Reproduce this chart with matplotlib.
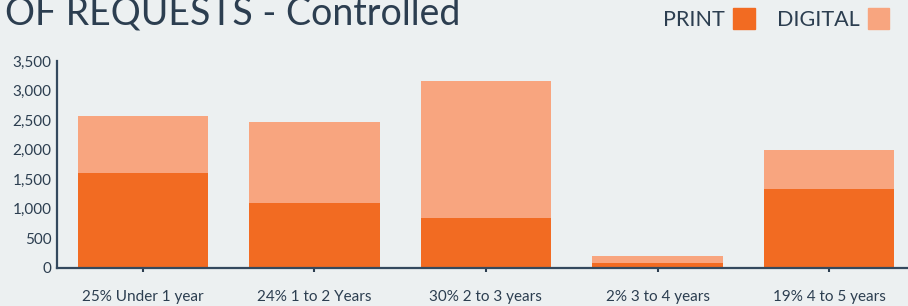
import matplotlib
matplotlib.use("Agg")
import matplotlib.pyplot as plt
import numpy as np

categories = ["25% Under 1 year", "24% 1 to 2 Years", "30% 2 to 3 years", "2% 3 to 4 years", "19% 4 to 5 years"]
print_vals = [1608, 1098, 842, 80, 1336]
digital_vals = [968, 1376, 2311, 119, 664]
yticks = [0, 500, 1000, 1500, 2000, 2500, 3000, 3500]

BG = "#ECF0F1"
TXT = "#2C3E50"
C_PRINT = "#F26B22"
C_DIG = "#F8A57F"

plt.rcParams['font.family'] = ['Lato', 'DejaVu Sans']

fig = plt.figure(figsize=(9.08, 3.06), dpi=100, facecolor=BG)
W, H = 908, 306
ax = fig.add_axes([57 / W, 1 - 267.7 / H, (908 - 57) / W, (267.7 - 61) / H], facecolor=BG)

x = np.arange(len(categories))
ax.bar(x, print_vals, width=0.76, color=C_PRINT, zorder=2)
ax.bar(x, digital_vals, width=0.76, bottom=print_vals, color=C_DIG, zorder=2)

ax.set_xlim(-0.5, 4.46)
ax.set_ylim(0, 3500)
ax.set_yticks(yticks)
ax.set_yticklabels([f"{v:,}" for v in yticks], fontsize=11, color=TXT)
ax.set_xticks(x)
ax.set_xticklabels(categories, fontsize=11, color=TXT)
ax.tick_params(axis='y', length=0, pad=4)
ax.tick_params(axis='x', length=3, width=1.5, color=TXT, pad=13, direction='out')
for s in ['top', 'right']:
    ax.spines[s].set_visible(False)
for s in ['left', 'bottom']:
    ax.spines[s].set_color("#34495E")
    ax.spines[s].set_linewidth(1.6)
ax.spines['bottom'].set_zorder(3)

# title (cut off at the top, as in the reference)
fig.text(5 / W, 1 - 25 / H, "OF REQUESTS - Controlled", fontsize=27, color=TXT,
         ha='left', va='baseline')

# legend
fig.text(663 / W, 1 - 26 / H, "PRINT", fontsize=15.5, color=TXT, ha='left', va='baseline')
fig.text(777 / W, 1 - 26 / H, "DIGITAL", fontsize=15.5, color=TXT, ha='left', va='baseline')
fig.patches.append(plt.Rectangle((733 / W, 1 - 29 / H), 22 / W, 21 / H, transform=fig.transFigure,
                                 color=C_PRINT, figure=fig))
fig.patches.append(plt.Rectangle((868 / W, 1 - 29 / H), 21 / W, 21 / H, transform=fig.transFigure,
                                 color=C_DIG, figure=fig))

fig.savefig("out.png", dpi=100, facecolor=BG)
